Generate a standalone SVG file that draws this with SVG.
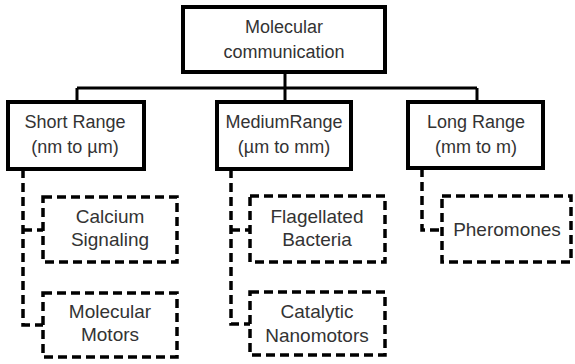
<svg xmlns="http://www.w3.org/2000/svg" width="575" height="364" viewBox="0 0 575 364">
<style>
.solid{fill:#fff;stroke:#000;stroke-width:4}
.dash{fill:#fff;stroke:#000;stroke-width:3.5;stroke-dasharray:9 5}
.line{fill:none;stroke:#000;stroke-width:3}
.dline{fill:none;stroke:#000;stroke-width:3.5;stroke-dasharray:9 5}
text{font-family:"Liberation Sans",Arial,sans-serif;fill:#333;text-anchor:middle}
.t1{font-size:18px}
.t2{font-size:19px}
</style>
<rect width="575" height="364" fill="#fff"/>
<g id="connectors">
<path class="line" d="M285 72V88M77 88H477M77 88V102M285 88V102M477 88V102"/>
<path class="dline" d="M23 169V325H43M23 230H43"/>
<path class="dline" d="M231 169V324H250M231 230H250"/>
<path class="dline" d="M422 168V230H442"/>
</g>
<g id="root"><rect class="solid" x="183" y="7" width="202" height="65"/>
<text class="t1" x="284" y="33">Molecular</text><text class="t1" x="284" y="58">communication</text></g>
<g id="short"><rect class="solid" x="8" y="102" width="136" height="67"/>
<text class="t1" x="75" y="128">Short Range</text><text class="t1" x="75" y="153">(nm to µm)</text></g>
<g id="medium"><rect class="solid" x="217" y="102" width="134" height="67"/>
<text class="t1" x="284" y="128">MediumRange</text><text class="t1" x="284" y="153">(µm to mm)</text></g>
<g id="long"><rect class="solid" x="408" y="102" width="135" height="66"/>
<text class="t1" x="476" y="128">Long Range</text><text class="t1" x="476" y="153">(mm to m)</text></g>
<g id="calcium"><rect class="dash" x="43" y="197" width="134" height="65"/>
<text class="t2" x="110" y="223">Calcium</text><text class="t2" x="110" y="246">Signaling</text></g>
<g id="motors"><rect class="dash" x="43" y="293" width="134" height="64"/>
<text class="t2" x="110" y="318">Molecular</text><text class="t2" x="110" y="341">Motors</text></g>
<g id="flagellated"><rect class="dash" x="250" y="196" width="135" height="66"/>
<text class="t2" x="317" y="223">Flagellated</text><text class="t2" x="317" y="246">Bacteria</text></g>
<g id="catalytic"><rect class="dash" x="250" y="292" width="135" height="63"/>
<text class="t2" x="317" y="318">Catalytic</text><text class="t2" x="317" y="342">Nanomotors</text></g>
<g id="pheromones"><rect class="dash" x="442" y="196" width="129" height="66"/>
<text class="t2" x="507" y="236">Pheromones</text></g>
</svg>
